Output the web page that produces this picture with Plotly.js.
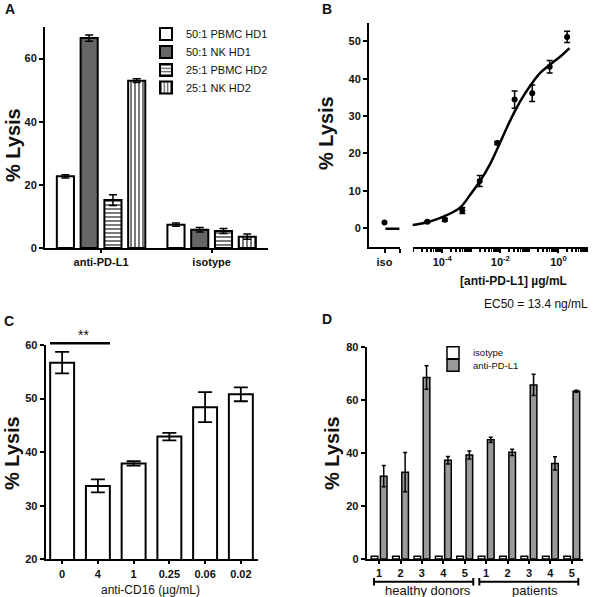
<!DOCTYPE html>
<html>
<head>
<meta charset="utf-8">
<script src="https://cdn.plot.ly/plotly-3.0.1.min.js"></script>
<style>html,body{margin:0;padding:0;background:#fff;}#chart{width:600px;height:597px;}</style>
</head>
<body>
<div id="chart"></div>
<script>
// ---------- Panel A ----------
const aCategories = ['anti-PD-L1', 'isotype'];
const aSeriesNames = ['50:1 PBMC HD1', '50:1 NK HD1', '25:1 PBMC HD2', '25:1 NK HD2'];
const aValues = [[22.7, 7.4], [66.5, 5.8], [15.2, 5.4], [53.0, 3.6]];
const aErrors = [[0.5, 0.5], [1.0, 0.7], [1.7, 0.8], [0.6, 0.8]];

// ---------- Panel B ----------
const bDose = [2.0, 0.5, 0.125, 0.031, 0.0078, 0.00195, 0.00049, 0.000122, 0.0000305];
const bLysis = [51.2, 43.2, 36.1, 34.4, 22.8, 12.6, 4.7, 2.2, 1.7];
const bError = [1.5, 1.7, 2.2, 2.3, 0.4, 1.5, 0.8, 0.4, 0.2];
const bIsoLysis = [1.5];
const bIsoLine = [-0.2, -0.2];
const bFitDose = [0.000009, 0.0000277, 0.000105, 0.0004, 0.00089, 0.002, 0.00447, 0.0087, 0.017, 0.033, 0.065, 0.129, 0.245, 0.63, 1.23, 2.4];
const bFitLysis = [0.8, 1.5, 3.0, 5.4, 8.8, 12.6, 17.2, 22.0, 27.0, 31.6, 35.6, 39.0, 41.7, 44.3, 46.1, 48.2];
const bTickVals = [1e-4, 1e-2, 1];
const bTickText = ['10<sup>-4</sup>', '10<sup>-2</sup>', '10<sup>0</sup>'];

// ---------- Panel C ----------
const cCategories = ['0', '4', '1', '0.25', '0.06', '0.02'];
const cValues = [56.7, 33.7, 37.9, 42.9, 48.4, 50.8];
const cErrors = [2.0, 1.2, 0.4, 0.7, 2.8, 1.3];

// ---------- Panel D ----------
const dDonorLabels = ['1', '2', '3', '4', '5', '1', '2', '3', '4', '5'];
const dIsotype = [1, 1, 1, 1, 1, 1, 1, 1, 1, 1];
const dAntiPDL1 = [31.2, 32.7, 68.4, 37.2, 39.2, 44.9, 40.2, 65.6, 36.0, 63.2];
const dAntiErr = [4.0, 7.4, 4.4, 1.4, 1.5, 1.0, 1.2, 4.0, 2.5, 0.4];
const dGroups = ['healthy donors', 'patients'];

const FONT = 'Arial, "Liberation Sans", sans-serif';
const px = (v) => v / 600;
const py = (v) => 1 - v / 597;

// minor tick positions for the log axis (every 1..9 x 10^d)
const bMinorTicks = [];
for (let d = -5; d <= 0; d++) { for (let k = 1; k <= 9; k++) { const v = k * Math.pow(10, d); if (!bTickVals.some(t => Math.abs(t - v) / v < 1e-9)) bMinorTicks.push(v); } }
bMinorTicks.push(10);

const aFills = [
  {color: 'white'},
  {color: '#666666'},
  {color: 'white', pattern: {shape: '-', fgcolor: '#222', bgcolor: 'white', size: 4, solidity: 0.3}},
  {color: 'white', pattern: {shape: '|', fgcolor: '#222', bgcolor: 'white', size: 4, solidity: 0.3}}
];
const aLegendIds = ['legend', 'legend2', 'legend3', 'legend4'];

const traces = [];
aSeriesNames.forEach((name, i) => {
  traces.push({
    type: 'bar', name: name, x: aCategories, y: aValues[i],
    xaxis: 'x', yaxis: 'y', legend: aLegendIds[i],
    marker: Object.assign({line: {color: 'black', width: 2}}, aFills[i]),
    error_y: {type: 'data', array: aErrors[i], color: 'black', thickness: 1.5, width: 4}
  });
});

// Panel B traces
traces.push({
  type: 'scatter', mode: 'markers', x: [0.5], y: bIsoLysis, xaxis: 'x2', yaxis: 'y2',
  marker: {color: 'black', size: 6}, showlegend: false
});
traces.push({
  type: 'scatter', mode: 'lines', x: [0.53, 0.98], y: bIsoLine, xaxis: 'x2', yaxis: 'y2',
  line: {color: 'black', width: 2.5}, showlegend: false
});
traces.push({
  type: 'scatter', mode: 'lines', x: bFitDose, y: bFitLysis, xaxis: 'x3', yaxis: 'y2',
  line: {color: 'black', width: 2.5, shape: 'spline', smoothing: 1}, showlegend: false
});
traces.push({
  type: 'scatter', mode: 'markers', x: bDose, y: bLysis, xaxis: 'x3', yaxis: 'y2',
  marker: {color: 'black', size: 6},
  error_y: {type: 'data', array: bError, color: 'black', thickness: 1.5, width: 3},
  showlegend: false
});

// Panel C
traces.push({
  type: 'bar', x: cCategories, y: cValues, xaxis: 'x4', yaxis: 'y3', showlegend: false,
  width: 0.67,
  marker: {color: 'white', line: {color: 'black', width: 2}},
  error_y: {type: 'data', array: cErrors, color: 'black', thickness: 1.8, width: 7}
});

// Panel D
const dX = dDonorLabels.map((_, i) => i);
traces.push({
  type: 'bar', name: 'isotype', x: dX, y: dIsotype, xaxis: 'x5', yaxis: 'y4', legend: 'legend5',
  marker: {color: 'white', line: {color: 'black', width: 1.5}}
});
traces.push({
  type: 'bar', name: 'anti-PD-L1', x: dX, y: dAntiPDL1, xaxis: 'x5', yaxis: 'y4', legend: 'legend6',
  marker: {color: '#999999', line: {color: 'black', width: 1.5}},
  error_y: {type: 'data', array: dAntiErr, color: 'black', thickness: 1.5, width: 2}
});

const tickFont = {family: FONT, size: 11, color: '#111', weight: 'bold'};
const axBase = {
  showgrid: false, zeroline: false, showline: true, linecolor: 'black', linewidth: 2,
  ticks: 'outside', ticklen: 4, tickwidth: 2, tickcolor: 'black', tickfont: tickFont, fixedrange: true
};
const ax = (o) => Object.assign({}, axBase, o);

const annFont = (size, bold) => ({family: FONT, size: size, color: '#111', weight: bold ? 'bold' : 'normal'});
const ann = (text, x, y, size, bold, extra) => Object.assign({
  text: text, x: px(x), y: py(y), xref: 'paper', yref: 'paper', showarrow: false,
  xanchor: 'center', yanchor: 'middle', font: annFont(size, bold)
}, extra || {});
const seg = (x0, y0, x1, y1) => ({type: 'line', xref: 'paper', yref: 'paper', x0: px(x0), x1: px(x1), y0: py(y0), y1: py(y1), line: {color: 'black', width: 2}});
const leg = (x, y, size) => ({x: px(x), y: py(y), xanchor: 'left', yanchor: 'middle', bgcolor: 'rgba(0,0,0,0)',
  font: {family: FONT, size: size, color: '#111'}, tracegroupgap: 0, itemwidth: 30, borderwidth: 0});

const layout = {
  width: 600, height: 597, margin: {l: 0, r: 0, t: 0, b: 0},
  paper_bgcolor: 'white', plot_bgcolor: 'rgba(0,0,0,0)',
  font: {family: FONT, color: '#111'},
  barmode: 'group', bargap: 0.14, bargroupgap: 0.28,
  showlegend: true,
  // A
  xaxis: ax({domain: [px(45), px(268)], anchor: 'y', type: 'category', range: [-0.507, 1.51], ticklen: 3}),
  yaxis: ax({domain: [py(248), py(27)], anchor: 'x', range: [0, 70], tickvals: [0, 20, 40, 60]}),
  // B
  xaxis2: ax({domain: [px(369), px(400)], anchor: 'y2', range: [0, 1], tickvals: [0.5], ticktext: ['iso'], ticklen: 4,
    minor: {ticks: 'outside', ticklen: 4, tickwidth: 2, tickcolor: 'black', tickvals: [1], showgrid: false}}),
  xaxis3: ax({domain: [px(412.7), px(588)], anchor: 'y2', type: 'log', range: [-5.02, 1.02], ticklen: 4,
    tickvals: bTickVals, ticktext: bTickText,
    minor: {ticks: 'outside', ticklen: 3, tickwidth: 1.5, tickcolor: 'black', tickvals: bMinorTicks, showgrid: false}}),
  yaxis2: ax({domain: [py(246.7), py(22.7)], anchor: 'x2', range: [-5, 55], tickvals: [0, 10, 20, 30, 40, 50]}),
  // C
  xaxis4: ax({domain: [px(45.7), px(258)], anchor: 'y3', type: 'category', range: [-0.46, 5.48], ticklen: 3}),
  yaxis3: ax({domain: [py(559.3), py(345)], anchor: 'x4', range: [20, 60], tickvals: [20, 30, 40, 50, 60]}),
  // D
  xaxis5: ax({domain: [px(366.7), px(582.7)], anchor: 'y4', range: [-0.58, 9.51], tickvals: dX, ticktext: dDonorLabels, ticklen: 3}),
  yaxis4: ax({domain: [py(559), py(346.7)], anchor: 'x5', range: [0, 80], tickvals: [0, 20, 40, 60, 80]}),
  legend: leg(146, 34, 11),
  legend2: leg(146, 52, 11),
  legend3: leg(146, 70, 11),
  legend4: leg(146, 87.5, 11),
  legend5: leg(433, 352.7, 9.5),
  legend6: leg(433, 365.2, 9.5),
  annotations: [
    ann('A', 10, 9, 14, true),
    ann('B', 327, 9, 14, true),
    ann('C', 9, 321, 14, true),
    ann('D', 327, 319, 14, true),
    ann('% Lysis', 13, 145, 20, true, {textangle: -90}),
    ann('% Lysis', 326, 133, 20, true, {textangle: -90}),
    ann('% Lysis', 12, 453, 20, true, {textangle: -90}),
    ann('% Lysis', 332, 453, 20, true, {textangle: -90}),
    ann('[anti-PD-L1] µg/mL', 513, 281, 12, true),
    ann('EC50 = 13.4 ng/mL', 590, 304, 12, false, {xanchor: 'right'}),
    ann('anti-CD16 (µg/mL)', 150, 590, 12, false),
    ann('**', 83, 335, 14, false),
    ann(dGroups[0], 428, 590.5, 13, false),
    ann(dGroups[1], 535, 590.5, 13, false)
  ],
  shapes: [
    Object.assign(seg(50, 343.3, 110, 343.3), {line: {color: 'black', width: 2.5}}),
    seg(374, 581.7, 473.3, 581.7),
    seg(374, 578, 374, 585.5),
    seg(473.3, 578, 473.3, 585.5),
    seg(479.3, 581.7, 578.3, 581.7),
    seg(479.3, 578, 479.3, 585.5),
    seg(578.3, 578, 578.3, 585.5)
  ]
};

Plotly.newPlot('chart', traces, layout, {staticPlot: true, displayModeBar: false});
</script>
</body>
</html>
